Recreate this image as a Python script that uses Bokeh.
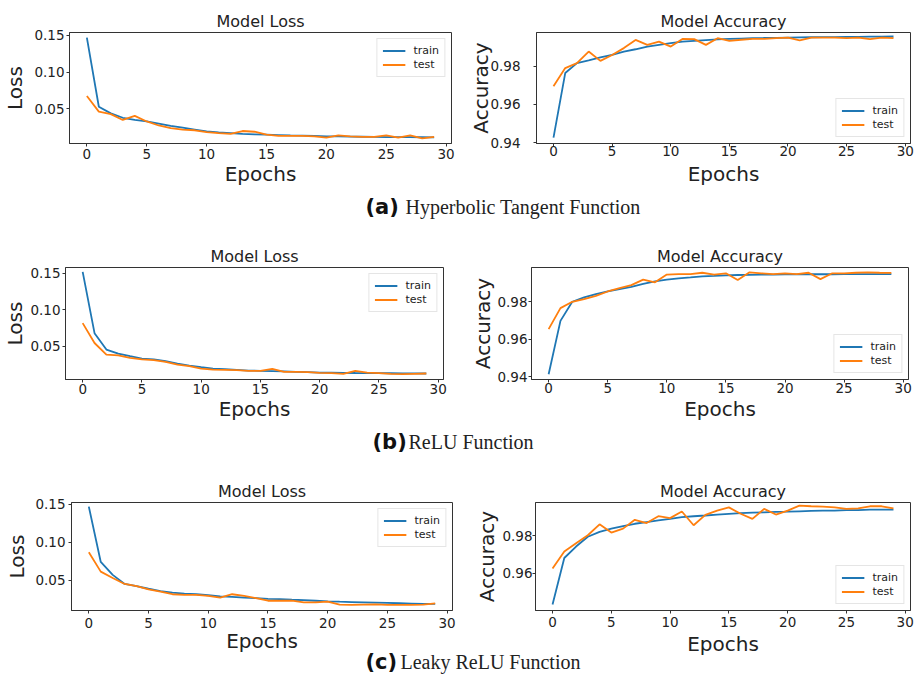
from bokeh.plotting import figure
from bokeh.layouts import column, row
from bokeh.models import Range1d, FixedTicker, PrintfTickFormatter, Label
from bokeh.embed import file_html
from bokeh.resources import INLINE

# ---------------- data ----------------
epochs = list(range(30))

tanh_loss_train = [0.147, 0.053, 0.044, 0.038, 0.035, 0.033, 0.030, 0.027, 0.0245, 0.022,
                   0.0195, 0.018, 0.017, 0.016, 0.0155, 0.015, 0.0145, 0.014, 0.0138, 0.0135,
                   0.0128, 0.0126, 0.0124, 0.0122, 0.012, 0.0118, 0.0117, 0.0116, 0.0115, 0.0114]
tanh_loss_test = [0.0676, 0.0464, 0.043, 0.035, 0.0405, 0.033, 0.0275, 0.024, 0.022, 0.021,
                  0.0185, 0.017, 0.016, 0.020, 0.019, 0.015, 0.0135, 0.0135, 0.0135, 0.0126,
                  0.011, 0.014, 0.0126, 0.012, 0.012, 0.014, 0.011, 0.014, 0.010, 0.012]
tanh_acc_train = [0.9426, 0.9765, 0.9817, 0.9831, 0.9847, 0.986, 0.9878, 0.989, 0.9904, 0.9913,
                  0.9922, 0.993, 0.9934, 0.9938, 0.9942, 0.9944, 0.9946, 0.9948, 0.9949, 0.995,
                  0.9951, 0.9952, 0.9953, 0.9954, 0.9954, 0.9955, 0.9955, 0.9956, 0.9956, 0.9957]
tanh_acc_test = [0.9696, 0.9791, 0.9817, 0.9878, 0.9829, 0.986, 0.9896, 0.9939, 0.9913, 0.993,
                 0.9904, 0.9944, 0.9943, 0.9913, 0.9948, 0.9934, 0.994, 0.9944, 0.9944, 0.9948,
                 0.9951, 0.9936, 0.9951, 0.9951, 0.9951, 0.9948, 0.9951, 0.9943, 0.9951, 0.9948]

relu_loss_train = [0.152, 0.068, 0.0455, 0.040, 0.0364, 0.033, 0.032, 0.0295, 0.0264, 0.0236,
                   0.0214, 0.0195, 0.0186, 0.0177, 0.0168, 0.0164, 0.016, 0.0155, 0.015, 0.0145,
                   0.014, 0.0138, 0.0136, 0.0134, 0.0133, 0.0132, 0.0131, 0.013, 0.0128, 0.0127]
relu_loss_test = [0.0818, 0.0545, 0.0386, 0.0377, 0.034, 0.032, 0.031, 0.0286, 0.025, 0.0227,
                  0.0195, 0.018, 0.0177, 0.0173, 0.0164, 0.0164, 0.019, 0.015, 0.015, 0.0145,
                  0.0136, 0.0132, 0.0123, 0.0164, 0.014, 0.0132, 0.0123, 0.0118, 0.0123, 0.0127]
relu_acc_train = [0.9413, 0.9698, 0.980, 0.9823, 0.9841, 0.9855, 0.9868, 0.988, 0.9895, 0.9909,
                  0.9918, 0.9925, 0.993, 0.9936, 0.9938, 0.9941, 0.9943, 0.9944, 0.9945, 0.9945,
                  0.9946, 0.9946, 0.9947, 0.9947, 0.9947, 0.9948, 0.9948, 0.9948, 0.9948, 0.9948]
relu_acc_test = [0.9654, 0.9766, 0.980, 0.9814, 0.9832, 0.9855, 0.9873, 0.9889, 0.9918, 0.9904,
                 0.9945, 0.9948, 0.9948, 0.9955, 0.9945, 0.9952, 0.9916, 0.9957, 0.9952, 0.9948,
                 0.9952, 0.9948, 0.9955, 0.9921, 0.9952, 0.9952, 0.9955, 0.9957, 0.9955, 0.9954]

lrelu_loss_train = [0.1466, 0.0741, 0.0572, 0.0453, 0.0424, 0.039, 0.036, 0.034, 0.0326, 0.0318,
                    0.0305, 0.029, 0.0284, 0.0275, 0.0267, 0.0258, 0.0254, 0.0246, 0.024, 0.0233,
                    0.0225, 0.022, 0.0216, 0.0212, 0.0208, 0.0204, 0.020, 0.0196, 0.0191, 0.0191]
lrelu_loss_test = [0.0869, 0.0614, 0.053, 0.0453, 0.0424, 0.0381, 0.0352, 0.0318, 0.031, 0.031,
                   0.0297, 0.0275, 0.0318, 0.0297, 0.0267, 0.0233, 0.0233, 0.0233, 0.0212, 0.0212,
                   0.022, 0.0182, 0.0178, 0.0182, 0.0186, 0.0178, 0.0178, 0.0178, 0.0182, 0.0199]
lrelu_acc_train = [0.9435, 0.9682, 0.9743, 0.9795, 0.9821, 0.9838, 0.9852, 0.9864, 0.9873, 0.9882,
                   0.989, 0.9899, 0.9904, 0.9908, 0.9913, 0.9917, 0.992, 0.9923, 0.9925, 0.9927,
                   0.9928, 0.993, 0.9932, 0.9934, 0.9934, 0.9936, 0.9937, 0.9939, 0.9939, 0.9939]
lrelu_acc_test = [0.9626, 0.9717, 0.976, 0.9803, 0.9861, 0.9817, 0.9838, 0.9885, 0.9868, 0.9904,
                  0.9894, 0.9929, 0.9856, 0.9911, 0.9934, 0.9951, 0.9917, 0.989, 0.9943, 0.9913,
                  0.9934, 0.996, 0.9957, 0.9955, 0.9951, 0.9943, 0.9946, 0.9957, 0.9957, 0.9946]

x_ticks = [0, 5, 10, 15, 20, 25, 30]
loss_ticks = [0.05, 0.10, 0.15]
acc_ticks = [0.94, 0.96, 0.98]
series_names = ["train", "test"]
titles = ["Model Loss", "Model Accuracy"]
ylabels = ["Loss", "Accuracy"]
caption_tags = ["(a)", "(b)", "(c)"]
caption_texts = ["Hyperbolic Tangent Function", "ReLU Function", "Leaky ReLU Function"]

# ---------------- styling / geometry ----------------
BLUE = "#1f77b4"
ORANGE = "#ff7f0e"
SPINE = "#333333"
TXT = "#222222"
XR = (-1.45, 30.45)
LEFT_COL = (0, 458)
RIGHT_COL = (458, 914)


def panel(title, ylabel, train, test, yr, yticks, fig_box, frame_box, st):
    x0, x1, y0, y1 = fig_box
    fx0, fx1, fy0, fy1 = frame_box
    p = figure(width=x1 - x0, height=y1 - y0,
               x_range=Range1d(*XR), y_range=Range1d(*yr),
               output_backend="svg", toolbar_location=None, title=title,
               min_border_left=fx0 - x0, min_border_right=x1 - fx1,
               min_border_top=fy0 - y0, min_border_bottom=y1 - fy1)
    p.background_fill_color = None
    p.border_fill_color = None
    p.line(epochs, train, color=BLUE, line_width=1.8, legend_label=series_names[0])
    p.line(epochs, test, color=ORANGE, line_width=1.8, legend_label=series_names[1])

    p.title.align = "center"
    p.title.text_font = "DejaVu Sans"
    p.title.text_font_size = "16px"
    p.title.text_font_style = "normal"
    p.title.text_color = TXT
    p.title.standoff = st["title_standoff"]

    p.xgrid.visible = False
    p.ygrid.visible = False
    p.outline_line_color = SPINE
    p.outline_line_alpha = 1.0
    p.outline_line_width = 1

    p.xaxis.ticker = FixedTicker(ticks=x_ticks)
    p.yaxis.ticker = FixedTicker(ticks=yticks)
    p.yaxis.formatter = PrintfTickFormatter(format="%.2f")
    p.xaxis.axis_label = "Epochs"
    p.yaxis.axis_label = ylabel
    for ax in (p.xaxis, p.yaxis):
        ax.axis_line_color = SPINE
        ax.major_tick_line_color = SPINE
        ax.major_tick_out = 3
        ax.major_tick_in = 0
        ax.minor_tick_line_color = None
        ax.major_label_text_font = "DejaVu Sans"
        ax.major_label_text_font_size = "13.5px"
        ax.major_label_text_color = TXT
        ax.axis_label_text_font = "DejaVu Sans"
        ax.axis_label_text_font_size = "20px"
        ax.axis_label_text_font_style = "normal"
        ax.axis_label_text_color = TXT
    p.xaxis.major_label_standoff = st["xl_standoff"]
    p.xaxis.axis_label_standoff = st["xa_standoff"]
    p.yaxis.major_label_standoff = st["yl_standoff"]
    p.yaxis.axis_label_standoff = st["ya_standoff"]

    lg = p.legend[0]
    lg.location = st["legend_loc"]
    lg.margin = 6
    lg.padding = 5
    lg.spacing = 1
    lg.glyph_width = 23
    lg.glyph_height = 13
    lg.label_height = 13
    lg.label_standoff = 8
    lg.label_text_font = "DejaVu Sans"
    lg.label_text_font_size = "11px"
    lg.label_text_color = TXT
    lg.border_line_color = "#cccccc"
    lg.border_line_width = 1
    lg.background_fill_color = "white"
    lg.background_fill_alpha = 0.85
    return p


def caption(tag, text, y0, y1, tag_x, text_x, baseline, overlap):
    h = y1 - y0
    c = figure(width=RIGHT_COL[1], height=h, x_range=Range1d(0, 1), y_range=Range1d(0, 1),
               output_backend="svg", toolbar_location=None,
               x_axis_type=None, y_axis_type=None, min_border=0,
               margin=(-overlap, 0, 0, 0))
    c.outline_line_color = None
    c.background_fill_color = None
    c.border_fill_color = None
    yb = (y1 - baseline) + 7
    c.add_layout(Label(x=tag_x, y=yb, x_units="screen", y_units="screen", text=tag,
                       text_font="DejaVu Sans", text_font_style="bold", text_font_size="21px",
                       text_color="#111111", text_baseline="alphabetic"))
    c.add_layout(Label(x=text_x, y=yb, x_units="screen", y_units="screen", text=text,
                       text_font="Liberation Serif", text_font_size="20px",
                       text_color="#222222", text_baseline="alphabetic"))
    return c


rows_cfg = [
    dict(loss=(tanh_loss_train, tanh_loss_test), acc=(tanh_acc_train, tanh_acc_test),
         lyr=(0.003, 0.154), ayr=(0.9395, 0.9978), y0=0, y1=190,
         lf=(68, 451, 32, 145), rf=(536, 910, 31, 143),
         lst=dict(title_standoff=4, xl_standoff=2, xa_standoff=0, yl_standoff=2, ya_standoff=4, legend_loc="top_right"),
         rst=dict(title_standoff=4, xl_standoff=-1, xa_standoff=3, yl_standoff=13, ya_standoff=-6, legend_loc="bottom_right")),
    dict(loss=(relu_loss_train, relu_loss_test), acc=(relu_acc_train, relu_acc_test),
         lyr=(0.0045, 0.158), ayr=(0.9385, 0.9983), y0=224, y1=425,
         lf=(62, 443, 267, 381), rf=(531, 908, 267, 379),
         lst=dict(title_standoff=4, xl_standoff=1, xa_standoff=0, yl_standoff=2, ya_standoff=0, legend_loc="top_right"),
         rst=dict(title_standoff=4, xl_standoff=0, xa_standoff=1, yl_standoff=1, ya_standoff=-1, legend_loc="bottom_right")),
    dict(loss=(lrelu_loss_train, lrelu_loss_test), acc=(lrelu_acc_train, lrelu_acc_test),
         lyr=(0.0105, 0.152), ayr=(0.9403, 0.9977), y0=457, y1=662,
         lf=(71, 452, 502, 614), rf=(535, 910, 500, 610),
         lst=dict(title_standoff=4, xl_standoff=4, xa_standoff=-2, yl_standoff=3, ya_standoff=3, legend_loc="top_right"),
         rst=dict(title_standoff=4, xl_standoff=3, xa_standoff=2, yl_standoff=0, ya_standoff=0, legend_loc="bottom_right")),
]

# caption band (y0, y1), tag x, text x, baseline, overlap with the row above
cap_cfg = [
    (190, 224, 365, 405, 213, 0),
    (425, 457, 372, 408, 448, 0),
    (648, 674, 365, 400, 668, 14),
]

children = []
for i, rc in enumerate(rows_cfg):
    y0, y1 = rc["y0"], rc["y1"]
    lb = (LEFT_COL[0], LEFT_COL[1], y0, y1)
    rb = (RIGHT_COL[0], RIGHT_COL[1], y0, y1)
    pl = panel(titles[0], ylabels[0], rc["loss"][0], rc["loss"][1], rc["lyr"], loss_ticks, lb, rc["lf"], rc["lst"])
    pr = panel(titles[1], ylabels[1], rc["acc"][0], rc["acc"][1], rc["ayr"], acc_ticks, rb, rc["rf"], rc["rst"])
    children.append(row(pl, pr))
    cy0, cy1, tx, txx, bl, ov = cap_cfg[i]
    children.append(caption(caption_tags[i], caption_texts[i], cy0, cy1, tx, txx, bl, ov))

layout = column(*children)
open("out.html", "w").write(file_html(layout, INLINE))
